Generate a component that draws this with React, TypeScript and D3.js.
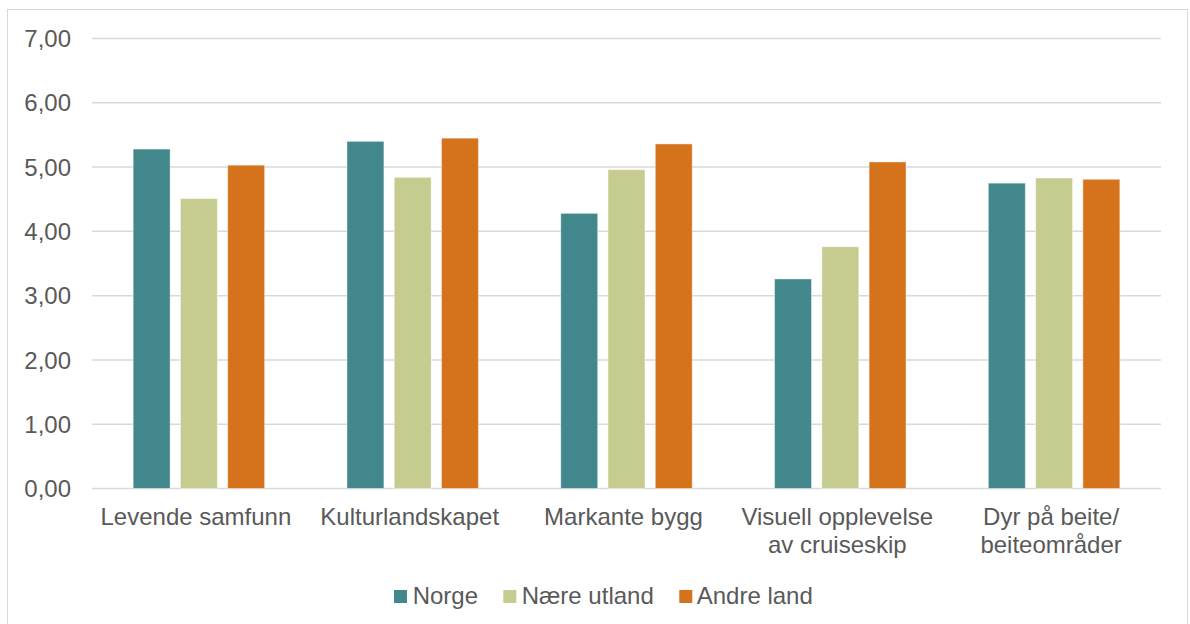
import React from "react";
import * as d3 from "d3";

const categories = [
  "Levende samfunn",
  "Kulturlandskapet",
  "Markante bygg",
  "Visuell opplevelse av cruiseskip",
  "Dyr på beite/ beiteområder",
];
const categoryLines = [
  ["Levende samfunn"],
  ["Kulturlandskapet"],
  ["Markante bygg"],
  ["Visuell opplevelse", "av cruiseskip"],
  ["Dyr på beite/", "beiteområder"],
];
const seriesNames = ["Norge", "Nære utland", "Andre land"];
const seriesColors = ["#41878b", "#c6cc8f", "#d4731c"];
const norge = [5.28, 5.4, 4.28, 3.26, 4.75];
const naereUtland = [4.51, 4.84, 4.96, 3.76, 4.83];
const andreLand = [5.03, 5.45, 5.36, 5.08, 4.81];
const yTicks = [0, 1, 2, 3, 4, 5, 6, 7];

const seriesValues = [norge, naereUtland, andreLand];

export default function App() {
  const W = 1190;
  const H = 624;
  const left = 92;
  const right = 1161;
  const top = 38.5;
  const bottom = 488.5;
  const font = "'Liberation Sans', Arial, sans-serif";
  const textColor = "#595959";

  const y = d3.scaleLinear().domain([0, 7]).range([bottom, top]);
  const x0 = d3.scaleBand<string>().domain(categories).range([left, right]).padding(0);
  const bw = x0.bandwidth();
  const groupW = bw * 0.615;
  const offset = (bw - groupW) / 2;
  const x1 = d3.scaleBand<string>().domain(seriesNames).range([0, groupW]).paddingInner(0.218).paddingOuter(0);
  const fmt = (v: number) => d3.format(".2f")(v).replace(".", ",");

  const legendFont = 24;
  const sw = 13;
  const legendItems = [
    { x: 394, tx: 412.7 },
    { x: 503.3, tx: 521.7 },
    { x: 679.3, tx: 696.7 },
  ];

  return (
    <svg
      width={W}
      height={H}
      style={{ position: "absolute", left: 0, top: 0, background: "#fff" }}
      fontFamily={font}
    >
      <rect x={7.5} y={9.5} width={1180} height={630} fill="#fff" stroke="#d9d9d9" strokeWidth={1} />
      {yTicks.map((t) => (
        <g key={t}>
          <line x1={left} x2={right} y1={y(t)} y2={y(t)} stroke="#d9d9d9" strokeWidth={1.5} />
          <text x={71} y={y(t)} dy="0.36em" textAnchor="end" fontSize={24} fill={textColor}>
            {fmt(t)}
          </text>
        </g>
      ))}
      {categories.map((c, ci) => {
        const cx = (x0(c) as number) + bw / 2 - 3;
        return (
          <g key={c}>
            {seriesNames.map((s, si) => {
              const v = seriesValues[si][ci];
              const bx = (x0(c) as number) + offset + (x1(s) as number);
              return (
                <rect
                  key={s}
                  x={bx}
                  y={y(v)}
                  width={x1.bandwidth()}
                  height={y(0) - y(v)}
                  fill={seriesColors[si]}
                  stroke="#ffffff"
                  strokeOpacity={0.45}
                  strokeWidth={1}
                />
              );
            })}
            <text textAnchor="middle" fontSize={24} fill={textColor}>
              {categoryLines[ci].map((ln, li) => (
                <tspan key={li} x={cx} y={525 + li * 28}>
                  {ln}
                </tspan>
              ))}
            </text>
          </g>
        );
      })}
      {seriesNames.map((s, si) => (
        <g key={s}>
          <rect x={legendItems[si].x} y={590} width={sw} height={sw} fill={seriesColors[si]} />
          <text x={legendItems[si].tx} y={603.5} fontSize={legendFont} fill={textColor}>
            {s}
          </text>
        </g>
      ))}
    </svg>
  );
}
